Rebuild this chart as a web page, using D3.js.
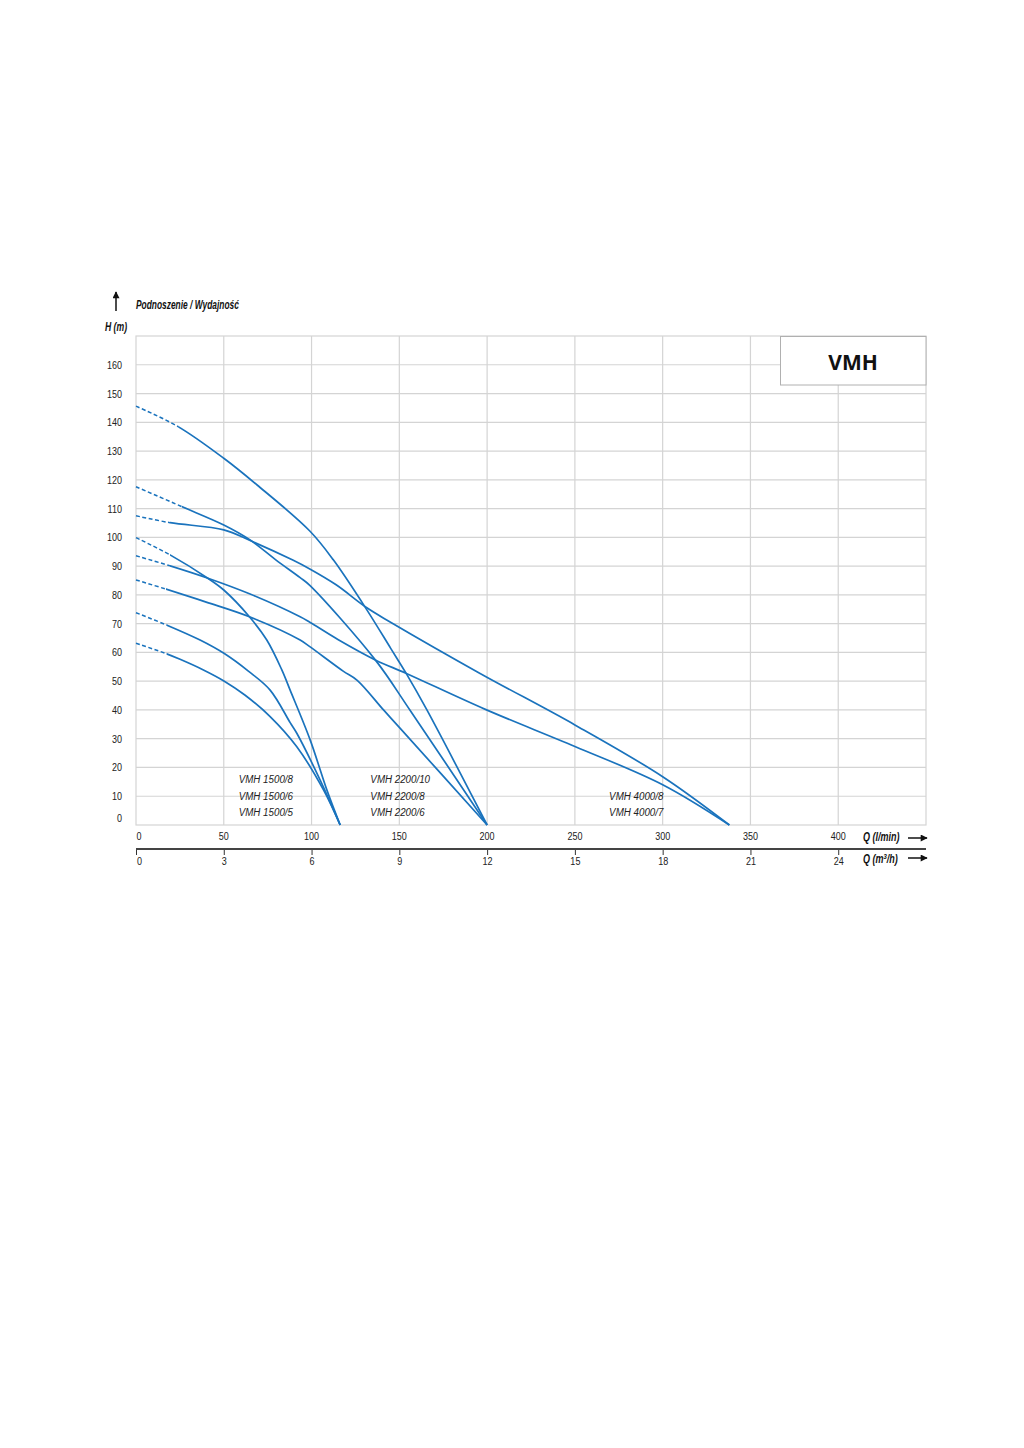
<!DOCTYPE html>
<html>
<head>
<meta charset="utf-8">
<script src="https://cdn.jsdelivr.net/npm/d3@7"></script>
<style>
  body { margin: 0; background: #fff; }
  svg text { font-family: "Liberation Sans", Arial, sans-serif; }
</style>
</head>
<body>
<svg id="chart" width="1024" height="1448"></svg>
<script>
// pump curves, Q in l/min, H in m
const qTicks = [0, 50, 100, 150, 200, 250, 300, 350, 400];
const m3Ticks = [0, 3, 6, 9, 12, 15, 18, 21, 24];
const hTicks = [0, 10, 20, 30, 40, 50, 60, 70, 80, 90, 100, 110, 120, 130, 140, 150, 160];

const vmh2200_10 = [[0, 145.6], [24, 138.5], [50, 127.5], [69, 118.2], [99, 102.2], [112.5, 92.1], [131.5, 74.8], [145, 61.5], [153.9, 52.7], [165.7, 40], [200, 0]];
const vmh2200_8 = [[0, 117.6], [26, 110.7], [50, 104.3], [65, 99.1], [79.8, 92.1], [93.5, 86.0], [99, 83.3], [136.3, 57.4], [156, 40], [200, 0]];
const vmh2200_6 = [[0, 85.2], [17.1, 82], [40, 77.5], [64.6, 72.4], [93.5, 64.3], [99, 62], [118, 53.5], [126, 50.3], [141, 40], [150.5, 33.6], [200, 0]];
const vmh4000_8 = [[0, 107.5], [19.4, 105.1], [50, 102.6], [65, 98.9], [89.3, 92.1], [99, 89], [114, 83.5], [131.5, 75.5], [145, 70.5], [196, 52.7], [250, 34.8], [300, 16.8], [338, 0]];
const vmh4000_7 = [[0, 93.6], [19.4, 90.1], [41, 85.8], [65, 80.3], [93.5, 72.4], [99, 70.5], [115, 64.5], [136.3, 57.4], [154, 52.7], [199, 40.2], [250, 27.3], [300, 14], [338, 0]];
const vmh1500_8 = [[0, 99.9], [19.4, 93.9], [40.9, 85.8], [50, 81.7], [64.6, 72.4], [74.5, 64.3], [83, 54], [87.8, 46.9], [99.2, 29.6], [108.7, 12.2], [116.3, 0]];
const vmh1500_6 = [[0, 73.8], [17.5, 69.5], [36.5, 64.3], [50.3, 59.6], [64, 53.5], [76.4, 46.9], [87.8, 35.6], [91.6, 31.9], [104.9, 15.6], [116.3, 0]];
const vmh1500_5 = [[0, 63.2], [17.5, 59.5], [25.1, 57.6], [38.4, 53.9], [50.3, 50.0], [62, 45.2], [76.4, 37.7], [91.6, 27.2], [106.8, 12.2], [116.3, 0]];

const curves = [vmh2200_10, vmh2200_8, vmh2200_6, vmh4000_8, vmh4000_7, vmh1500_8, vmh1500_6, vmh1500_5];
// end of the dashed start of each curve (l/min)
const dashEnds = [24, 26, 17.1, 19.4, 19.4, 19.4, 17.5, 17.5];

const labels = [
  {text: "VMH 1500/8", q: 58.5, h: 16},
  {text: "VMH 1500/6", q: 58.5, h: 10},
  {text: "VMH 1500/5", q: 58.5, h: 4.4},
  {text: "VMH 2200/10", q: 133.5, h: 16},
  {text: "VMH 2200/8", q: 133.5, h: 10},
  {text: "VMH 2200/6", q: 133.5, h: 4.4},
  {text: "VMH 4000/8", q: 269.5, h: 10},
  {text: "VMH 4000/7", q: 269.5, h: 4.4}
];

const blue = '#1a73bd';
const grid = '#d4d4d4';

const svg = d3.select('#chart');

const x = d3.scaleLinear().domain([0, 450]).range([136, 926]);
const y = d3.scaleLinear().domain([0, 170]).range([825, 336]);
const xm = d3.scaleLinear().domain([0, 27]).range([136, 926]);

// squeeze text horizontally (the original uses a condensed face)
function condense(sel, k) {
    sel.each(function () {
        const t = d3.select(this);
        const tx = +t.attr('x') || 0, ty = +t.attr('y') || 0;
        t.attr('x', 0).attr('y', 0)
            .attr('transform', `translate(${tx},${ty}) scale(${k},1)`);
    });
}

// grid
svg.append('g')
    .selectAll('line')
    .data(hTicks.filter(d => d > 0))
    .enter().append('line')
    .attr('x1', x(0)).attr('x2', x(450))
    .attr('y1', d => y(d)).attr('y2', d => y(d))
    .attr('stroke', grid).attr('stroke-width', 1.2);

svg.append('g')
    .selectAll('line')
    .data(qTicks.filter(d => d > 0))
    .enter().append('line')
    .attr('x1', d => x(d)).attr('x2', d => x(d))
    .attr('y1', y(0)).attr('y2', y(170))
    .attr('stroke', grid).attr('stroke-width', 1.2);

svg.append('rect')
    .attr('x', x(0)).attr('y', y(170))
    .attr('width', x(450) - x(0)).attr('height', y(0) - y(170))
    .attr('fill', 'none').attr('stroke', grid).attr('stroke-width', 1.2);

// title box
svg.append('rect')
    .attr('x', 780.5).attr('y', 336.5)
    .attr('width', 145.5).attr('height', 48.5)
    .attr('fill', '#fff').attr('stroke', '#b0b0b0').attr('stroke-width', 1);
svg.append('text')
    .attr('x', 853).attr('y', 370)
    .attr('text-anchor', 'middle')
    .style('font-family', '"Open Sans", "DejaVu Sans", sans-serif')
    .style('font-weight', 'bold')
    .style('font-size', '21px')
    .attr('fill', '#111')
    .text('VMH');

// y tick labels
svg.append('g')
    .selectAll('text')
    .data(hTicks)
    .enter().append('text')
    .attr('x', 122)
    .attr('y', d => d === 0 ? y(0) - 3 : y(d) + 4)
    .attr('text-anchor', 'end')
    .style('font-size', '11px')
    .attr('fill', '#222')
    .text(d => d)
    .call(condense, 0.82);

// x tick labels (l/min)
svg.append('g')
    .selectAll('text')
    .data(qTicks)
    .enter().append('text')
    .attr('x', d => d === 0 ? x(0) + 3 : x(d))
    .attr('y', 840)
    .attr('text-anchor', 'middle')
    .style('font-size', '11px')
    .attr('fill', '#222')
    .text(d => d)
    .call(condense, 0.82);

// second axis m3/h
const m3Axis = d3.axisBottom(xm).tickValues(m3Ticks).tickSize(6).tickPadding(3);
const gm = svg.append('g')
    .attr('transform', 'translate(0,849)')
    .call(m3Axis);
gm.select('.domain').remove();
gm.selectAll('.tick line').attr('stroke', '#333').attr('stroke-width', 1);
gm.selectAll('.tick text')
    .style('font-family', '"Liberation Sans", sans-serif')
    .style('font-size', '11px')
    .attr('fill', '#222')
    .attr('x', d => d === 0 ? 3 : 0)
    .attr('y', 16)
    .attr('dy', null)
    .call(condense, 0.82);
svg.append('line')
    .attr('x1', x(0)).attr('x2', x(450))
    .attr('y1', 849).attr('y2', 849)
    .attr('stroke', '#444').attr('stroke-width', 2);

// axis titles
const italicBold = sel => sel.style('font-style', 'italic').style('font-weight', 'bold').attr('fill', '#111');

svg.append('text').attr('x', 863).attr('y', 841).style('font-size', '12px')
    .call(italicBold).text('Q (l/min)').call(condense, 0.75);
svg.append('text').attr('x', 863).attr('y', 863).style('font-size', '12px')
    .call(italicBold)
    .html('Q (m<tspan dy="-4" font-size="8">3</tspan><tspan dy="4">/h)</tspan>')
    .call(condense, 0.75);
svg.append('text').attr('x', 136).attr('y', 309).style('font-size', '12px')
    .call(italicBold).text('Podnoszenie / Wydajność').call(condense, 0.7);
svg.append('text').attr('x', 105).attr('y', 331).style('font-size', '12px')
    .call(italicBold).text('H (m)').call(condense, 0.72);

// arrows
const defs = svg.append('defs');
defs.append('marker')
    .attr('id', 'arrow')
    .attr('viewBox', '0 0 10 10')
    .attr('refX', 9).attr('refY', 5)
    .attr('markerWidth', 10).attr('markerHeight', 7)
    .attr('markerUnits', 'userSpaceOnUse')
    .attr('orient', 'auto')
    .append('path').attr('d', 'M0,0 L10,5 L0,10 Z').attr('fill', '#111');

[[908, 838, 927, 838], [908, 858, 927, 858], [116, 311, 116, 292]].forEach(a => {
    svg.append('line')
        .attr('x1', a[0]).attr('y1', a[1]).attr('x2', a[2]).attr('y2', a[3])
        .attr('stroke', '#111').attr('stroke-width', 1.5)
        .attr('marker-end', 'url(#arrow)');
});

// curves: whole curve drawn twice, clipped into a dashed start and a solid rest
const line = d3.line()
    .x(d => x(d[0]))
    .y(d => y(d[1]))
    .curve(d3.curveCatmullRom.alpha(0.5));

const curveG = svg.append('g');
curves.forEach((c, i) => {
    const qd = dashEnds[i];
    defs.append('clipPath').attr('id', 'cd' + i)
        .append('rect')
        .attr('x', 0).attr('y', 0)
        .attr('width', x(qd)).attr('height', 1448);
    defs.append('clipPath').attr('id', 'cs' + i)
        .append('rect')
        .attr('x', x(qd)).attr('y', 0)
        .attr('width', 1024 - x(qd)).attr('height', 1448);
    curveG.append('path')
        .attr('d', line(c))
        .attr('clip-path', `url(#cd${i})`)
        .attr('fill', 'none').attr('stroke', blue)
        .attr('stroke-width', 1.5)
        .attr('stroke-dasharray', '4,2.5');
    curveG.append('path')
        .attr('d', line(c))
        .attr('clip-path', `url(#cs${i})`)
        .attr('fill', 'none').attr('stroke', blue)
        .attr('stroke-width', 1.7);
});

// model labels
svg.append('g')
    .selectAll('text')
    .data(labels)
    .enter().append('text')
    .attr('x', d => x(d.q))
    .attr('y', d => y(d.h) + 4)
    .style('font-size', '11.5px')
    .style('font-style', 'italic')
    .attr('fill', '#222')
    .text(d => d.text)
    .call(condense, 0.85);
</script>
</body>
</html>
